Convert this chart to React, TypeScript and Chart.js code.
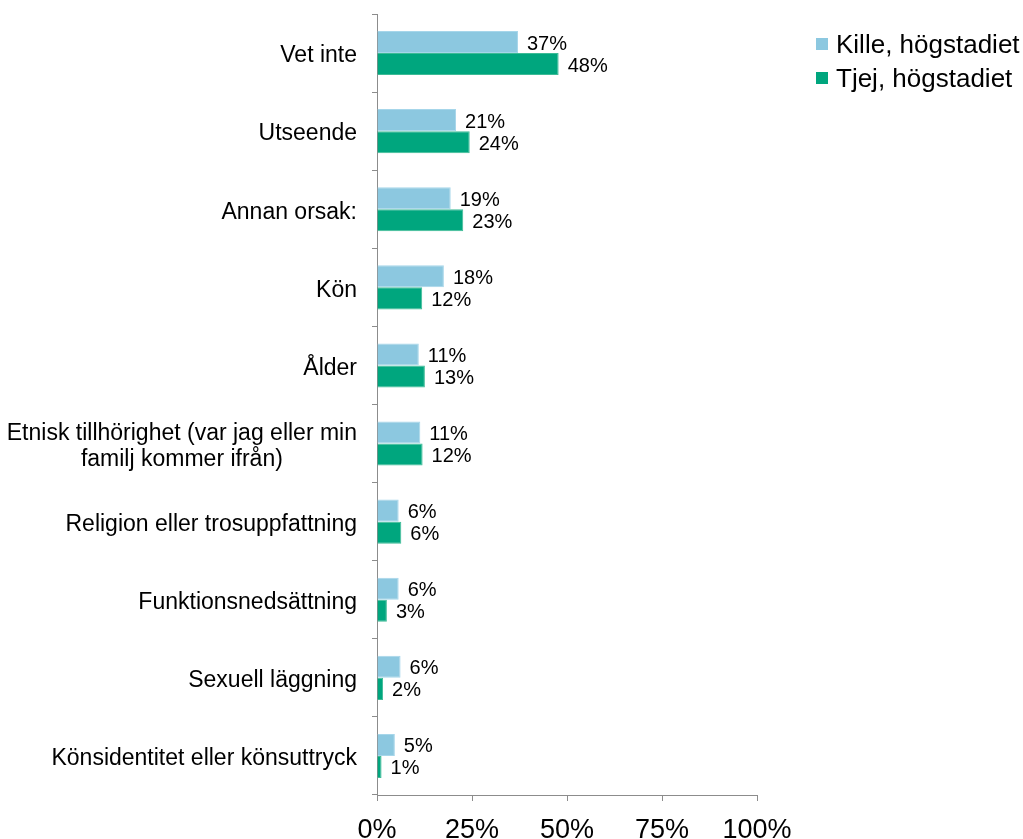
import React, { useEffect, useRef } from "react";
import { Chart, registerables } from "chart.js";

Chart.register(...registerables);

const categories: (string | string[])[] = [
  "Vet inte",
  "Utseende",
  "Annan orsak:",
  "Kön",
  "Ålder",
  ["Etnisk tillhörighet (var jag eller min", "familj kommer ifrån)"],
  "Religion eller trosuppfattning",
  "Funktionsnedsättning",
  "Sexuell läggning",
  "Könsidentitet eller könsuttryck",
];
const killeValues = [37.1, 20.8, 19.4, 17.6, 11.0, 11.4, 5.7, 5.7, 6.2, 4.7];
const tjejValues = [47.8, 24.4, 22.7, 11.9, 12.6, 12.0, 6.4, 2.6, 1.6, 1.2];
const seriesNames = ["Kille, högstadiet", "Tjej, högstadiet"];
const seriesColors = ["#8CC8E0", "#00A67E"];
const seriesBorders = ["#A6D6EA", "#3DBB96"];
const xTicks = [0, 25, 50, 75, 100];

const FONT = "'Liberation Sans', Arial, sans-serif";

const labelsPlugin = {
  id: "customLabels",
  afterDraw(chart: any) {
    const ctx = chart.ctx;
    const yScale = chart.scales.y;
    // category labels
    ctx.save();
    ctx.fillStyle = "#000";
    ctx.font = `23px ${FONT}`;
    ctx.textBaseline = "middle";
    ctx.textAlign = "center";
    const right = yScale.right - 20;
    const lh = 26;
    categories.forEach((c, i) => {
      const lines = Array.isArray(c) ? c : [c];
      const w = Math.max(...lines.map((l) => ctx.measureText(l).width));
      const cx = right - w / 2;
      const cy = yScale.getPixelForValue(i) + 3;
      lines.forEach((l, j) => {
        ctx.fillText(l, cx, cy + (j - (lines.length - 1) / 2) * lh);
      });
    });
    ctx.restore();

    // data labels
    ctx.save();
    ctx.fillStyle = "#000";
    ctx.font = `20px ${FONT}`;
    ctx.textBaseline = "middle";
    ctx.textAlign = "left";
    chart.data.datasets.forEach((ds: any, di: number) => {
      const meta = chart.getDatasetMeta(di);
      meta.data.forEach((el: any, i: number) => {
        ctx.fillText(Math.round(ds.data[i]) + "%", el.x + 9, el.y + 2);
      });
    });
    ctx.restore();

    // legend
    ctx.save();
    ctx.font = `26px ${FONT}`;
    ctx.textBaseline = "middle";
    ctx.textAlign = "left";
    chart.data.datasets.forEach((ds: any, di: number) => {
      const y = 44 + di * 34;
      ctx.fillStyle = ds.backgroundColor;
      ctx.fillRect(816, y - 6, 12, 12);
      ctx.fillStyle = "#000";
      ctx.fillText(ds.label, 836, y + 2);
    });
    ctx.restore();
  },
};

export default function App() {
  const ref = useRef<HTMLCanvasElement | null>(null);
  useEffect(() => {
    if (!ref.current) return;
    const chart = new Chart(ref.current, {
      type: "bar",
      data: {
        labels: categories.map((c) => (Array.isArray(c) ? c.join(" ") : c)),
        datasets: [
          {
            label: seriesNames[0],
            data: killeValues,
            backgroundColor: seriesColors[0],
            borderColor: seriesBorders[0],
            borderWidth: 1,
            barPercentage: 1,
            categoryPercentage: 0.565,
          },
          {
            label: seriesNames[1],
            data: tjejValues,
            backgroundColor: seriesColors[1],
            borderColor: seriesBorders[1],
            borderWidth: 1,
            barPercentage: 1,
            categoryPercentage: 0.565,
          },
        ],
      },
      options: {
        indexAxis: "y",
        animation: false,
        responsive: true,
        maintainAspectRatio: false,
        layout: { padding: { top: 14, right: 266, left: 0, bottom: 0 } },
        plugins: {
          legend: { display: false },
          tooltip: { enabled: false },
        },
        scales: {
          x: {
            type: "linear",
            min: 0,
            max: 100,
            afterBuildTicks: (scale: any) => {
              scale.ticks = xTicks.map((v) => ({ value: v }));
            },
            afterFit: (scale: any) => {
              scale.height = 44;
            },
            ticks: {
              callback: (v: any) => v + "%",
              font: { size: 27, family: FONT },
              color: "#000",
              padding: 13,
              maxRotation: 0,
            },
            grid: {
              drawOnChartArea: false,
              drawTicks: true,
              tickLength: 6,
              color: "#8c8c8c",
            },
            border: { color: "#8c8c8c", width: 1 },
          },
          y: {
            type: "category",
            offset: true,
            afterFit: (scale: any) => {
              scale.width = 377;
            },
            ticks: { display: false },
            grid: {
              offset: true,
              drawOnChartArea: false,
              drawTicks: true,
              tickLength: 5,
              color: "#8c8c8c",
            },
            border: { color: "#8c8c8c", width: 1 },
          },
        },
      },
      plugins: [labelsPlugin],
    });
    return () => chart.destroy();
  }, []);
  return (
    <div style={{ position: "absolute", left: 0, top: 0, width: 1023, height: 839 }}>
      <canvas ref={ref} />
    </div>
  );
}
